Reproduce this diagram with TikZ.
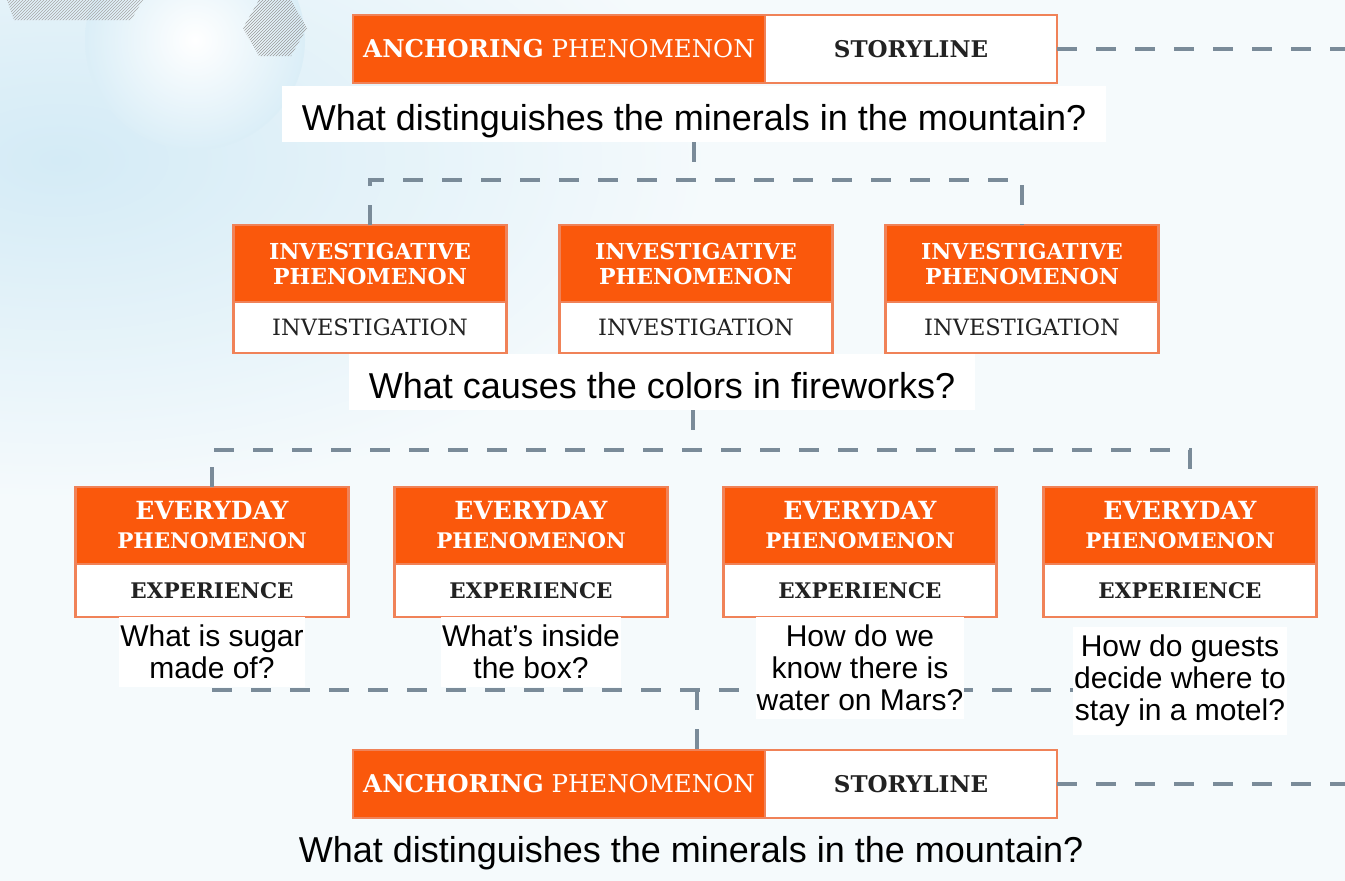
\documentclass[tikz,border=0pt]{standalone}
\usepackage{fontspec}
\setmainfont{Liberation Sans}
\newfontfamily\slab{DejaVu Serif}
\usetikzlibrary{positioning}
\usetikzlibrary{shapes,arrows,patterns}

\definecolor{phenorange}{RGB}{250,88,12}
\definecolor{boxedge}{RGB}{240,130,88}
\definecolor{linkgray}{RGB}{122,139,153}
\definecolor{skyblue}{RGB}{212,235,246}
\definecolor{paper}{RGB}{245,250,252}
\definecolor{ink}{RGB}{34,34,34}

\tikzset{
  head/.style={fill=phenorange, draw=boxedge, line width=2.5pt, outer sep=0pt,
    inner sep=0pt, text=white, align=center, minimum width=273pt, minimum height=77pt},
  body/.style={fill=white, draw=boxedge, line width=2.5pt, outer sep=0pt,
    inner sep=0pt, text=ink, minimum width=273pt},
  invhead/.style={head, font=\slab\bfseries\fontsize{22}{25}\selectfont},
  dayhead/.style={head, font=\slab\bfseries\fontsize{25}{29}\selectfont},
  link/.style={draw=linkgray, line width=3.5pt, dash pattern=on 20pt off 19pt},
  ask/.style={fill=white, inner xsep=1pt, inner ysep=8pt, align=center,
    font=\fontsize{30}{32}\selectfont},
  bigask/.style={fill=white, inner xsep=20pt, inner ysep=0pt, text height=44pt,
    text depth=12pt, font=\fontsize{36}{40}\selectfont}
}

\begin{document}
\begin{tikzpicture}[x=1pt,y=-1pt]
  \useasboundingbox (0,0) rectangle (1345,881);
  \fill[paper] (0,0) rectangle (1345,881);
  \shade[inner color=skyblue, outer color=paper] (60,160) ellipse [x radius=650pt, y radius=340pt];
  \shade[inner color=white, outer color=skyblue!80!paper] (195,40) circle [radius=110pt];
  \fill[pattern=north east lines, pattern color=gray!70] (7,0) -- (143,0) -- (131,20) -- (14,20) -- cycle;
  \fill[pattern=north east lines, pattern color=gray!80] (307,28) -- (291,0) -- (259,0) -- (243,28) -- (259,56) -- (291,56) -- cycle;

  \node(anc) [head, minimum width=412pt, minimum height=68pt] at (559,49)
    {\slab\fontsize{24.5}{28}\selectfont\textbf{ANCHORING} PHENOMENON};
  \node(story) [body, minimum width=292pt, minimum height=68pt, right=0pt of anc]
    {\slab\fontsize{23}{26}\selectfont\textbf{STORYLINE}};
  \node(q1) [bigask, anchor=base] at (694,130) {What distinguishes the minerals in the mountain?};

  \node(ip1) [invhead] at (370,263.5) {INVESTIGATIVE\\PHENOMENON};
  \node(ip2) [invhead] at (696,263.5) {INVESTIGATIVE\\PHENOMENON};
  \node(ip3) [invhead] at (1022,263.5) {INVESTIGATIVE\\PHENOMENON};
  \node(iv1) [body, minimum height=51pt, below=0pt of ip1] {\slab\fontsize{22.5}{25}\selectfont INVESTIGATION};
  \node(iv2) [body, minimum height=51pt, below=0pt of ip2] {\slab\fontsize{22.5}{25}\selectfont INVESTIGATION};
  \node(iv3) [body, minimum height=51pt, below=0pt of ip3] {\slab\fontsize{22.5}{25}\selectfont INVESTIGATION};
  \node(q2) [bigask, anchor=base] at (662,398) {What causes the colors in fireworks?};

  \node(ep1) [dayhead] at (212,525.5) {EVERYDAY\\\fontsize{21.5}{25}\selectfont PHENOMENON};
  \node(ep2) [dayhead] at (531,525.5) {EVERYDAY\\\fontsize{21.5}{25}\selectfont PHENOMENON};
  \node(ep3) [dayhead] at (860,525.5) {EVERYDAY\\\fontsize{21.5}{25}\selectfont PHENOMENON};
  \node(ep4) [dayhead] at (1180,525.5) {EVERYDAY\\\fontsize{21.5}{25}\selectfont PHENOMENON};
  \node(ex1) [body, minimum height=53pt, below=0pt of ep1] {\slab\bfseries\fontsize{21.5}{25}\selectfont EXPERIENCE};
  \node(ex2) [body, minimum height=53pt, below=0pt of ep2] {\slab\bfseries\fontsize{21.5}{25}\selectfont EXPERIENCE};
  \node(ex3) [body, minimum height=53pt, below=0pt of ep3] {\slab\bfseries\fontsize{21.5}{25}\selectfont EXPERIENCE};
  \node(ex4) [body, minimum height=53pt, below=0pt of ep4] {\slab\bfseries\fontsize{21.5}{25}\selectfont EXPERIENCE};

  \node(anc2) [head, minimum width=412pt, minimum height=68pt] at (559,784)
    {\slab\fontsize{24.5}{28}\selectfont\textbf{ANCHORING} PHENOMENON};
  \node(story2) [body, minimum width=292pt, minimum height=68pt, right=0pt of anc2]
    {\slab\fontsize{23}{26}\selectfont\textbf{STORYLINE}};

  \coordinate(bar1) at (694,180);
  \coordinate(bar2) at (693,450);
  \coordinate(bar3) at (697,690);
  \coordinate(exit1) at (1345,49);
  \coordinate(exit2) at (1345,784);

  \draw[link] (story) -- (exit1);
  \draw[link] (q1.south) -- (bar1);
  \draw[link] (ip1.north) -- (ip1.north |- bar1) -- (ip3.north |- bar1) -- (ip3.north);
  \draw[link] (q2.south -| bar2) -- (bar2);
  \draw[link] (ep1.north) -- (ep1.north |- bar2) -- ([xshift=10pt]ep4.north |- bar2) -- ([xshift=10pt]ep4.north);
  \draw[link] (ep1.south |- bar3) -- ([xshift=10pt]ep4.south |- bar3);
  \draw[link] (bar3) -- (anc2.north -| bar3);
  \draw[link] (story2) -- (exit2);

  \node(a1) [ask, below=0pt of ex1] {What is sugar\\made of?};
  \node(a2) [ask, below=0pt of ex2] {What’s inside\\the box?};
  \node(a3) [ask, below=0pt of ex3] {How do we\\know there is\\water on Mars?};
  \node(a4) [ask, below=10pt of ex4] {How do guests\\decide where to\\stay in a motel?};
  \node(q3) [bigask, fill=none, anchor=base] at (691,862) {What distinguishes the minerals in the mountain?};
\end{tikzpicture}
\end{document}
